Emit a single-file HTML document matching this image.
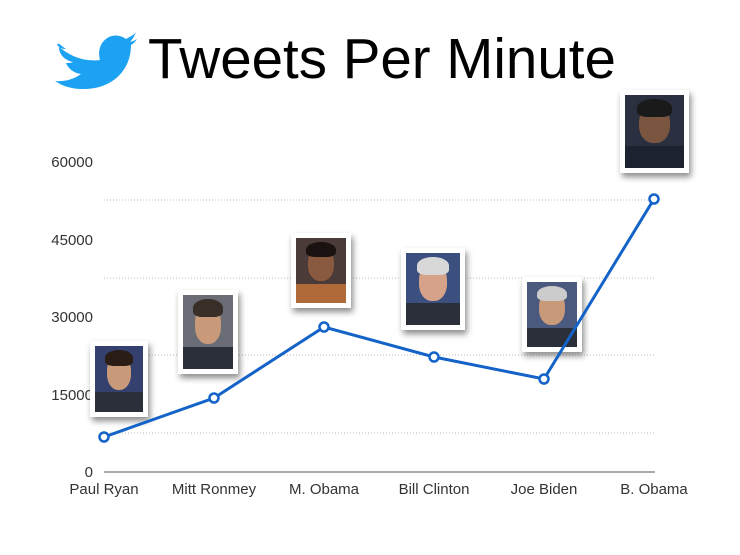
<!DOCTYPE html>
<html><head><style>
body{margin:0;background:#fff;width:740px;height:555px;overflow:hidden;font-family:"Liberation Sans",sans-serif}
.p{position:absolute;background:#fff;box-shadow:2px 4px 6px rgba(0,0,0,.45);padding:5px;box-sizing:border-box}
.p>div{width:100%;height:100%;position:relative;overflow:hidden}
.f{position:absolute;border-radius:45%;background:#c99a7a;left:24%;width:52%;top:14%;height:52%}
.h{position:absolute;border-radius:50% 50% 30% 30%;left:20%;width:60%;top:6%;height:24%}
.s{position:absolute;left:0;width:100%;bottom:0;height:30%;background:#2a2f3a}
</style></head><body>
<svg width="740" height="555" style="position:absolute;left:0;top:0">
<path d="M57,45 C70,57 85,62 100,60 C95,42 112,29 126,39 C131,36 134,35 136,32 C134,37 132,40 130,42 C134,41 135,40 137,39 C135,42 133,44 131,45 C131,72 110,90 82,89 C72,89 62,86 55,81 C65,82 74,79 81,74 C73,73 68,68 66,63 C69,63 71,63 73,62 C64,60 59,54 59,47 C62,49 64,49 66,49 C60,45 58,42 57,45 Z" fill="#1da1f2"/>
<text x="148" y="78" font-size="56.5" font-family="Liberation Sans,sans-serif" fill="#000">Tweets Per Minute</text>
<g stroke="#bbb" stroke-dasharray="1,2" stroke-width="1">
<line x1="104" x2="655" y1="200" y2="200"/><line x1="104" x2="655" y1="278" y2="278"/>
<line x1="104" x2="655" y1="355" y2="355"/><line x1="104" x2="655" y1="433" y2="433"/></g>
<line x1="104" x2="655" y1="472" y2="472" stroke="#555" stroke-width="1"/>
<g font-size="15" fill="#333" text-anchor="end">
<text x="93" y="167">60000</text><text x="93" y="245">45000</text><text x="93" y="322">30000</text><text x="93" y="400">15000</text><text x="93" y="477">0</text></g>
<g font-size="15" fill="#333" text-anchor="middle">
<text x="104" y="494">Paul Ryan</text><text x="214" y="494">Mitt Ronmey</text><text x="324" y="494">M. Obama</text>
<text x="434" y="494">Bill Clinton</text><text x="544" y="494">Joe Biden</text><text x="654" y="494">B. Obama</text></g>
</svg>
<div class="p" style="left:90px;top:341px;width:58px;height:76px"><div style="background:#34406e"><div class="f"></div><div class="h" style="background:#2a1d16"></div><div class="s"></div></div></div>
<div class="p" style="left:178px;top:290px;width:60px;height:84px"><div style="background:#6a6d75"><div class="f"></div><div class="h" style="background:#3a2e28"></div><div class="s"></div></div></div>
<div class="p" style="left:291px;top:233px;width:60px;height:75px"><div style="background:#4a3a38"><div class="f" style="background:#8a5a40"></div><div class="h" style="background:#1a1210"></div><div class="s" style="background:#b06a3a"></div></div></div>
<div class="p" style="left:401px;top:248px;width:64px;height:82px"><div style="background:#3c5080"><div class="f" style="background:#d6a38a"></div><div class="h" style="background:#d8d8d8"></div><div class="s"></div></div></div>
<div class="p" style="left:522px;top:277px;width:60px;height:75px"><div style="background:#4a5a7e"><div class="f"></div><div class="h" style="background:#ccc"></div><div class="s"></div></div></div>
<div class="p" style="left:620px;top:90px;width:69px;height:83px"><div style="background:#2a3040"><div class="f" style="background:#7a5540"></div><div class="h" style="background:#1a1a1a"></div><div class="s" style="background:#1d2230"></div></div></div>
<svg width="740" height="555" style="position:absolute;left:0;top:0">
<polyline points="104,437 214,398 324,327 434,357 544,379 654,199" fill="none" stroke="#1463c8" stroke-width="3"/>
<g fill="#fff" stroke="#1463c8" stroke-width="2.5">
<circle cx="104" cy="437" r="4.5"/><circle cx="214" cy="398" r="4.5"/><circle cx="324" cy="327" r="4.5"/>
<circle cx="434" cy="357" r="4.5"/><circle cx="544" cy="379" r="4.5"/><circle cx="654" cy="199" r="4.5"/></g>
</svg>
</body></html>
